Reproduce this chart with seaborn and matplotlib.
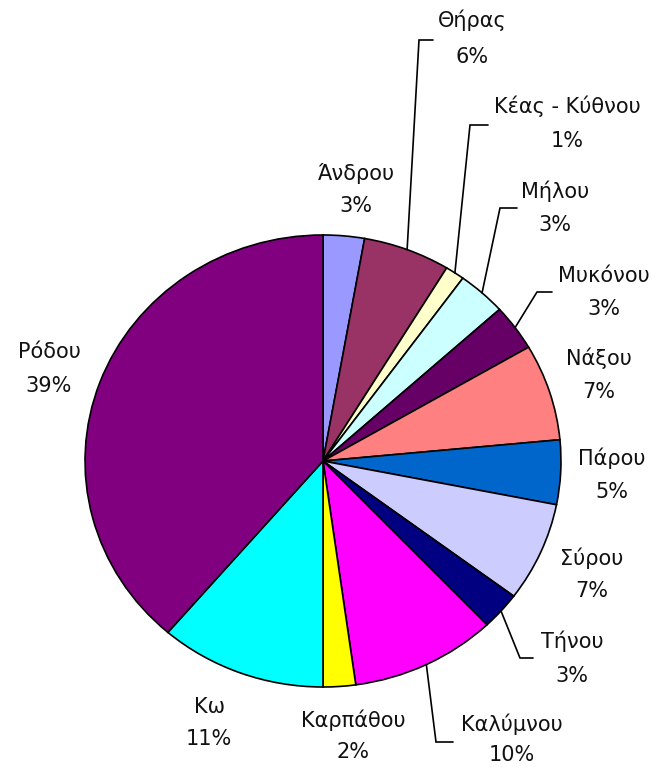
import matplotlib
matplotlib.use("Agg")
import matplotlib.pyplot as plt
import seaborn as sns
import numpy as np

# ---- data ----
islands = ["Άνδρου", "Θήρας", "Κέας - Κύθνου", "Μήλου", "Μυκόνου", "Νάξου",
           "Πάρου", "Σύρου", "Τήνου", "Καλύμνου", "Καρπάθου", "Κω", "Ρόδου"]
shares = [2.8, 5.9, 1.3, 3.3, 3.3, 6.9, 4.6, 7.1, 2.7, 9.9, 2.2, 11.3, 38.7]
colors = ["#9999FF", "#993366", "#FFFFCC", "#CCFFFF", "#660066", "#FF8080",
          "#0066CC", "#CCCCFF", "#000080", "#FF00FF", "#FFFF00", "#00FFFF",
          "#800080"]

# ---- layout (image pixel coordinates) ----
W, H = 657, 767
SX = 1.053                 # horizontal stretch of the original picture
CX, CY, R = 323, 461, 226  # pie centre and vertical radius
# label: x centre, baseline of name, baseline of percentage
label_pos = {
    "Άνδρου": (356, 180, 212),
    "Θήρας": (472, 27, 63),
    "Κέας - Κύθνου": (567, 113, 147),
    "Μήλου": (555, 198, 231),
    "Μυκόνου": (604, 282, 315),
    "Νάξου": (599, 365, 398),
    "Πάρου": (612, 465, 498),
    "Σύρου": (592, 565, 597),
    "Τήνου": (572, 648, 682),
    "Καλύμνου": (512, 731, 761),
    "Καρπάθου": (353, 727, 758),
    "Κω": (209, 713, 745),
    "Ρόδου": (49, 358, 392),
}
# leader lines: elbow point and end x
leaders = {
    "Θήρας": (419, 40, 433),
    "Κέας - Κύθνου": (470, 125, 488),
    "Μήλου": (500, 208, 517),
    "Μυκόνου": (537, 292, 552),
    "Τήνου": (520, 658, 533),
    "Καλύμνου": (436, 742, 453),
}

sns.set_theme(style="white")
plt.rcParams["font.family"] = ["DejaVu Sans"]

fig = plt.figure(figsize=(W / 100, H / 100), dpi=100)
ax = fig.add_axes([0, 0, 1, 1])


def P(x, y):
    return (x / SX, H - y)


center = P(CX, CY)
wedges, _ = ax.pie(shares, colors=sns.color_palette(colors), startangle=90,
                   counterclock=False, center=center, radius=R,
                   wedgeprops=dict(edgecolor="black", linewidth=1.2))
ax.set_aspect("auto")
ax.set_xlim(0, W / SX)
ax.set_ylim(0, H)
ax.axis("off")

total = sum(shares)
FS = 15
for name, val, w in zip(islands, shares, wedges):
    x, yb1, yb2 = label_pos[name]
    pct = f"{round(val / total * 100):d}%"
    ax.text(*P(x, yb1), name, ha="center", va="baseline", fontsize=FS,
            color="#111111")
    ax.text(*P(x, yb2), pct, ha="center", va="baseline", fontsize=FS,
            color="#111111")
    if name in leaders:
        ex, ey, endx = leaders[name]
        th = np.deg2rad((w.theta1 + w.theta2) / 2)
        sx0 = center[0] + R * np.cos(th)
        sy0 = center[1] + R * np.sin(th)
        e = P(ex, ey)
        f = P(endx, ey)
        ax.plot([sx0, e[0], f[0]], [sy0, e[1], f[1]], color="black", lw=1.2,
                solid_joinstyle="miter")

fig.savefig("out.png", dpi=100, facecolor="white")
